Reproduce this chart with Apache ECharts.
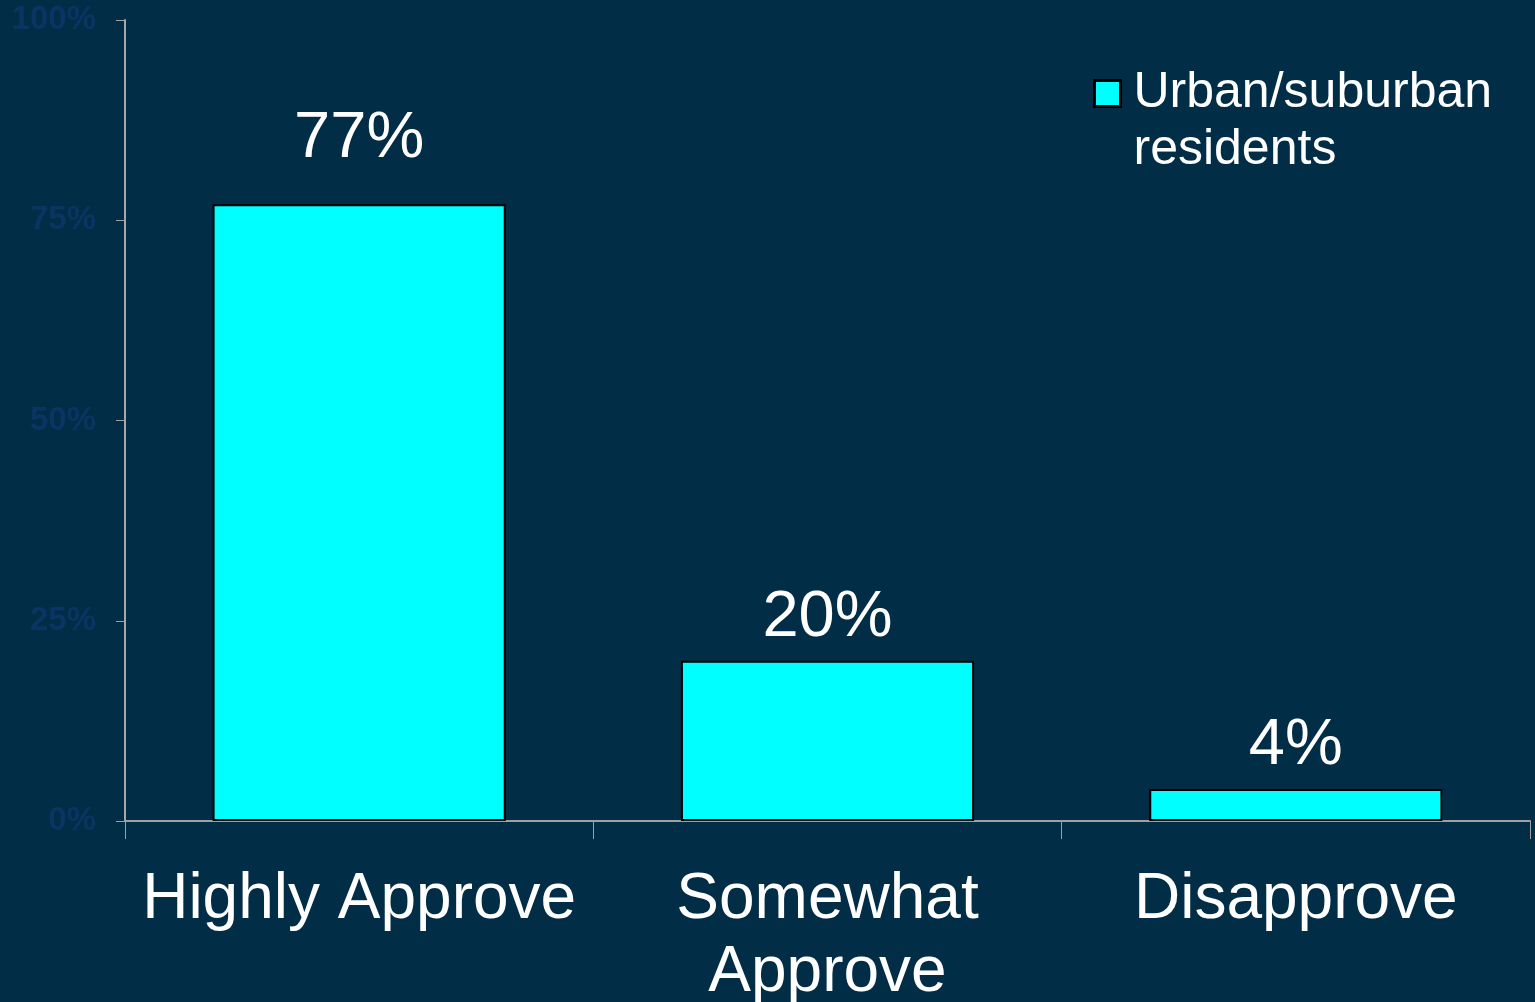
<!DOCTYPE html>
<html><head><meta charset="utf-8">
<script src="https://cdn.jsdelivr.net/npm/echarts@6/dist/echarts.min.js"></script>
<style>html,body{margin:0;padding:0;background:#022d47;}#c{width:1535px;height:1002px;}</style>
</head><body><div id="c"></div>
<script>
const categories = ['Highly Approve', 'Somewhat\nApprove', 'Disapprove'];
const values = [77, 20, 4];
const seriesName = 'Urban/suburban\nresidents';
const yTicks = [0, 25, 50, 75, 100];

const FONT = 'Liberation Sans, Arial, sans-serif';
const chart = echarts.init(document.getElementById('c'));
chart.setOption({
  backgroundColor: '#022d47',
  animation: false,
  grid: {left: 125, right: 5, top: 20, bottom: 181, containLabel: false, outerBoundsMode: 'none'},
  legend: {
    left: 1088, top: 3, orient: 'vertical',
    icon: 'rect',
    itemWidth: 26, itemHeight: 26,
    formatter: name => '\n' + name,
    textStyle: {color: '#ffffff', fontSize: 50, fontFamily: FONT, lineHeight: 57, padding: [0, 0, 0, 8]},
    data: [{name: seriesName, itemStyle: {color: '#00ffff', borderColor: '#000', borderWidth: 3}}]
  },
  xAxis: {
    type: 'category', data: categories,
    axisLine: {show: true, lineStyle: {color: '#a0a0a0', width: 2}},
    axisTick: {show: true, interval: 0, length: 18, lineStyle: {color: '#a0a0a0', width: 1}},
    axisLabel: {interval: 0, color: '#ffffff', fontSize: 64, fontFamily: FONT, margin: 43, lineHeight: 73}
  },
  yAxis: {
    type: 'value', min: 0, max: 100, interval: 25,
    splitLine: {show: false},
    axisLine: {show: true, lineStyle: {color: '#a8a8a8', width: 2}},
    axisTick: {show: true, length: 9, lineStyle: {color: '#a0a0a0', width: 1}},
    axisLabel: {color: '#0b3463', fontSize: 33, fontWeight: 'bold', fontFamily: FONT, margin: 29,
      formatter: v => yTicks.includes(v) ? v + '%' : ''}
  },
  series: [{
    name: seriesName, type: 'bar', barWidth: '62.6%',
    data: values.map((v, i) => i === 0 ? {value: v, label: {distance: 33}} : v),
    itemStyle: {color: '#00ffff', borderColor: '#000', borderWidth: 2},
    label: {show: true, position: 'top', distance: 10, color: '#ffffff', fontSize: 65, fontFamily: FONT, formatter: '{c}%'}
  }]
});
</script></body></html>
